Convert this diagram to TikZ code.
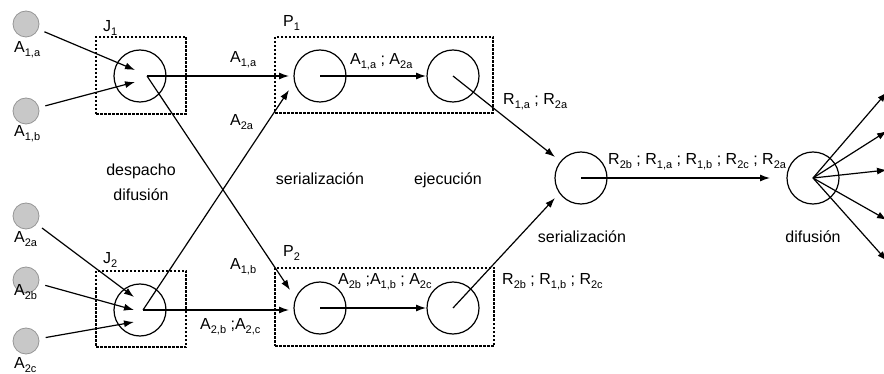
\documentclass[tikz,border=0pt]{standalone}
\usepackage{fontspec}
\setmainfont{Liberation Sans}
\usetikzlibrary{arrows.meta}
\newcommand\sbs[1]{\raisebox{-4pt}{\fontsize{11}{11}\selectfont #1}}
\begin{document}
\begin{tikzpicture}[x=1pt,y=-1pt,
  every node/.style={font=\fontsize{16}{19}\selectfont, inner sep=0pt},
  proc/.style={circle, draw, line width=1.2pt, minimum size=52pt},
  src/.style={circle, draw={rgb,255:red,150;green,150;blue,150}, fill={rgb,255:red,200;green,200;blue,200}, line width=0.8pt, minimum size=26pt},
  grp/.style={draw, line width=1.1pt, dash pattern=on 2.5pt off 1.5pt},
  arr/.style={line width=1.2pt, -{Latex[length=10pt,width=7pt]}},
  lbl/.style={anchor=base west},
  captxt/.style={anchor=base},
]
\useasboundingbox (0,0) rectangle (884,374);

% dashed group boxes
\node[grp, minimum width=90pt, minimum height=77pt] (J1box) at (141,75.5) {};
\node[grp, minimum width=90pt, minimum height=76pt] (J2box) at (141,309) {};
\node[grp, minimum width=218pt, minimum height=76pt] (P1box) at (384,75) {};
\node[grp, minimum width=219pt, minimum height=78pt] (P2box) at (384.5,307) {};

% sources
\node[src] (a1a) at (26,24) {};
\node[src] (a1b) at (26,111) {};
\node[src] (a2a) at (26,216) {};
\node[src] (a2b) at (26,280) {};
\node[src] (a2c) at (26,341) {};

% processes
\node[proc] (j1) at (140,76) {};
\node[proc] (j2) at (140,310) {};
\node[proc] (p1a) at (320,76) {};
\node[proc] (p1b) at (453,76) {};
\node[proc] (p2a) at (320,308) {};
\node[proc] (p2b) at (453,308) {};
\node[proc] (ser) at (581,178) {};
\node[proc] (dif) at (813,178) {};

% connector end points
\coordinate (j1i1) at (135,70);
\coordinate (j1i2) at (135,82);
\coordinate (j2i1) at (134,297);
\coordinate (j2i2) at (134,310);
\coordinate (j2i3) at (134,322);
\coordinate (j1o) at (147,76);
\coordinate (j2o) at (143,310);
\coordinate (p1i1) at (289,76);
\coordinate (p1i2) at (289,90);
\coordinate (p2i1) at (290,290);
\coordinate (p2i2) at (289,310);
\coordinate (p1bi) at (426,76);
\coordinate (p2bi) at (426,308);
\coordinate (seri1) at (555,157);
\coordinate (seri2) at (555,198);
\coordinate (difi) at (770,178);
\coordinate (o1) at (887,92);
\coordinate (o2) at (887,131);
\coordinate (o3) at (887,170);
\coordinate (o4) at (887,220);
\coordinate (o5) at (887,261);

% connectors
\draw[arr, shorten <=20pt] (a1a.center) -- (j1i1);
\draw[arr, shorten <=20pt] (a1b.center) -- (j1i2);
\draw[arr, shorten <=20pt] (a2a.center) -- (j2i1);
\draw[arr, shorten <=20pt] (a2b.center) -- (j2i2);
\draw[arr, shorten <=20pt] (a2c.center) -- (j2i3);
\draw[arr] (j1o) -- (p1i1);
\draw[arr] (j1o) -- (p2i1);
\draw[arr] (j2o) -- (p1i2);
\draw[arr] (j2o) -- (p2i2);
\draw[arr] (p1a.center) -- (p1bi);
\draw[arr] (p2a.center) -- (p2bi);
\draw[arr] (p1b.center) -- (seri1);
\draw[arr] (p2b.center) -- (seri2);
\draw[arr] (ser.center) -- (difi);
\draw[arr] (dif.center) -- (o1);
\draw[arr] (dif.center) -- (o2);
\draw[arr] (dif.center) -- (o3);
\draw[arr] (dif.center) -- (o4);
\draw[arr] (dif.center) -- (o5);

% labels
\node[lbl] (la1a) at (14,53) {A\sbs{1,a}};
\node[lbl] (la1b) at (14,137) {A\sbs{1,b}};
\node[lbl] (la2a) at (14,243) {A\sbs{2a}};
\node[lbl] (la2b) at (14,295) {A\sbs{2b}};
\node[lbl] (la2c) at (14,368) {A\sbs{2c}};
\node[lbl] (lj1) at (103,32) {J\sbs{1}};
\node[lbl] (lj2) at (103,264) {J\sbs{2}};
\node[lbl] (lp1) at (283,27) {P\sbs{1}};
\node[lbl] (lp2) at (283,257) {P\sbs{2}};
\node[lbl] (e1) at (230,63) {A\sbs{1,a}};
\node[lbl] (e2) at (230,126) {A\sbs{2a}};
\node[lbl] (e3) at (230,270) {A\sbs{1,b}};
\node[lbl] (e4) at (200,330) {A\sbs{2,b} ;A\sbs{2,c}};
\node[lbl] (e5) at (350,65) {A\sbs{1,a} ; A\sbs{2a}};
\node[lbl] (e6) at (338,285) {A\sbs{2b} ;A\sbs{1,b} ; A\sbs{2c}};
\node[lbl] (e7) at (503,105) {R\sbs{1,a} ; R\sbs{2a}};
\node[lbl] (e8) at (502,285) {R\sbs{2b} ; R\sbs{1,b} ; R\sbs{2c}};
\node[lbl] (e9) at (608,165) {R\sbs{2b} ; R\sbs{1,a} ; R\sbs{1,b} ; R\sbs{2c} ; R\sbs{2a}};
\node[captxt] (c1) at (141,176) {despacho};
\node[captxt] (c2) at (141,201) {difusión};
\node[captxt] (c3) at (320,185) {serialización};
\node[captxt] (c4) at (448,185) {ejecución};
\node[captxt] (c5) at (582,243) {serialización};
\node[captxt] (c6) at (813,243) {difusión};
\end{tikzpicture}
\end{document}
